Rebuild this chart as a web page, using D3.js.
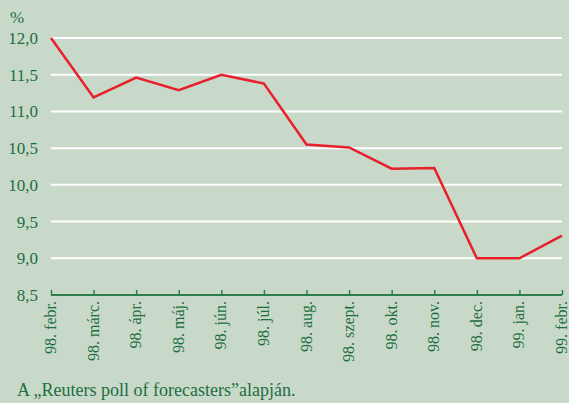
<!DOCTYPE html>
<html>
<head>
<meta charset="utf-8">
<script src="https://d3js.org/d3.v7.min.js"></script>
<style>
  body { margin: 0; background: #c8d9ca; }
  svg { display: block; }
  svg text { font-family: "Liberation Serif", "DejaVu Serif", "Times New Roman", serif; }
</style>
</head>
<body>
<div id="chart"></div>
<script>
// months on the x axis
const months = ["98. febr.", "98. márc.", "98. ápr.", "98. máj.", "98. jún.", "98. júl.",
  "98. aug.", "98. szept.", "98. okt.", "98. nov.", "98. dec.", "99. jan.", "99. febr."];
// forecast values, %
const values = [12.0, 11.19, 11.46, 11.29, 11.5, 11.38, 10.55, 10.51, 10.22, 10.23, 9.0, 9.0, 9.31];
// y tick values
const yTicks = [8.5, 9.0, 9.5, 10.0, 10.5, 11.0, 11.5, 12.0];

const width = 569, height = 403;
const plotLeft = 51, plotRight = 562, plotTop = 38, plotBottom = 295;
const textColor = "#1d6e3e";

const svg = d3.select("#chart").append("svg")
  .attr("width", width)
  .attr("height", height);

svg.append("rect").attr("width", width).attr("height", height).attr("fill", "#c8d9ca");

const x = d3.scalePoint().domain(months).range([plotLeft, plotRight]);
const y = d3.scaleLinear().domain([8.5, 12]).range([plotBottom, plotTop]);

// gridlines
svg.selectAll(".grid")
  .data(yTicks.filter(d => d > 8.5))
  .enter()
  .append("line")
  .attr("x1", plotLeft)
  .attr("x2", plotRight)
  .attr("y1", d => y(d))
  .attr("y2", d => y(d))
  .attr("stroke", "#ffffff")
  .attr("stroke-width", 2);

// y labels
svg.selectAll(".ylab")
  .data(yTicks)
  .enter()
  .append("text")
  .attr("x", 38)
  .attr("y", d => y(d))
  .attr("dy", "0.35em")
  .attr("text-anchor", "end")
  .attr("fill", textColor)
  .attr("font-size", 17)
  .text(d => d.toFixed(1).replace(".", ","));

svg.append("text")
  .attr("x", 10)
  .attr("y", 23)
  .attr("fill", textColor)
  .attr("font-size", 17)
  .text("%");

// x axis
const xAxis = svg.append("g")
  .attr("transform", "translate(0," + plotBottom + ")")
  .call(d3.axisTop(x).tickSize(5).tickFormat(""));
xAxis.select(".domain").attr("stroke", "#2e7d4f").attr("stroke-width", 2).attr("d", "M" + plotLeft + ",0H" + plotRight);
xAxis.selectAll(".tick line").attr("stroke", "#2e7d4f").attr("stroke-width", 1.5);

// x labels, rotated
svg.selectAll(".xlab")
  .data(months)
  .enter()
  .append("text")
  .attr("transform", d => "translate(" + (x(d) + 5) + "," + (plotBottom + 6) + ") rotate(-90)")
  .attr("text-anchor", "end")
  .attr("fill", textColor)
  .attr("font-size", 16)
  .text(d => d);

// line
const line = d3.line()
  .x((d, i) => x(months[i]))
  .y(d => y(d));

svg.append("path")
  .datum(values)
  .attr("d", line)
  .attr("fill", "none")
  .attr("stroke", "#e8202a")
  .attr("stroke-width", 2.5)
  .attr("stroke-linejoin", "miter");

// source note
svg.append("text")
  .attr("x", 17)
  .attr("y", 396)
  .attr("fill", textColor)
  .attr("font-size", 18)
  .text("A „Reuters poll of forecasters”alapján.");
</script>
</body>
</html>
